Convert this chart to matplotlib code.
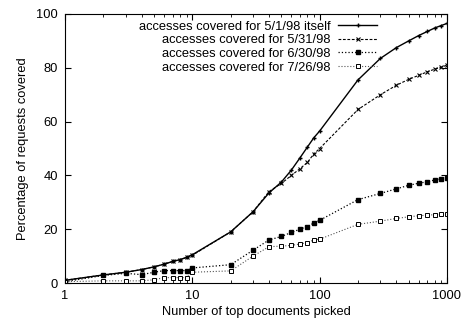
import matplotlib
matplotlib.use("Agg")
import matplotlib.pyplot as plt
from matplotlib.ticker import LogLocator, FixedLocator, NullFormatter

plt.rcParams['font.family'] = ['Liberation Sans', 'DejaVu Sans']

x = [1, 2, 3, 4, 5, 6, 7, 8, 9, 10, 20, 30, 40, 50, 60, 70, 80, 90, 100,
     200, 300, 400, 500, 600, 700, 800, 900, 1000]

may1 = [1.0, 3.0, 4.0, 5.0, 6.0, 7.0, 8.0, 8.7, 9.5, 10.5, 19.0, 26.5, 33.5, 37.5,
        42.0, 46.5, 50.5, 54.0, 56.5, 75.5, 83.5, 87.5, 90.0, 92.0, 93.5, 94.8,
        95.7, 96.5]
may31 = [1.0, 3.0, 4.0, 5.0, 6.0, 7.0, 8.0, 8.7, 9.5, 10.3, 19.0, 26.5, 34.0, 37.0,
         40.0, 42.5, 44.8, 48.0, 50.0, 64.5, 70.0, 73.5, 75.7, 77.2, 78.5, 79.5,
         80.2, 81.0]
jun30 = [0.5, 2.8, 3.6, 3.1, 4.0, 4.6, 4.6, 4.6, 4.6, 5.6, 6.8, 12.2, 16.0, 17.3,
         18.8, 20.0, 21.0, 22.3, 23.3, 31.0, 33.3, 35.0, 36.3, 37.1, 37.6, 38.3,
         38.7, 39.2]
jul26 = [0.5, 0.8, 0.8, 0.8, 1.2, 2.0, 2.0, 2.0, 2.0, 4.0, 4.5, 10.0, 13.5, 13.7,
         14.0, 14.5, 15.0, 16.0, 16.3, 21.8, 23.0, 24.0, 24.6, 25.0, 25.2, 25.4,
         25.6, 25.7]

labels = ["accesses covered for 5/1/98 itself",
          "accesses covered for 5/31/98",
          "accesses covered for 6/30/98",
          "accesses covered for 7/26/98"]

fs = 9.3

fig = plt.figure(figsize=(4.67, 3.2), dpi=100)
ax = fig.add_axes([65 / 467, 1 - 283 / 320, (447 - 65) / 467, (283 - 14) / 320])

ax.plot(x, may1, '-', color='black', lw=1.0, marker='+', ms=3, mew=1, label=labels[0])
ax.plot(x, may31, '--', color='black', lw=0.8, dashes=(2.5, 1.5), marker='x', ms=3,
        mew=0.8, label=labels[1])
ax.plot(x, jun30, ':', color='black', lw=0.9, marker='s', ms=2.5, mfc='black',
        label=labels[2])
ax.plot(x, jul26, ':', color='#555555', lw=0.8, marker='s', ms=3.3, mfc='white',
        mec='black', mew=0.7, label=labels[3])

ax.set_xscale('log')
ax.set_xlim(1, 1000)
ax.set_ylim(0, 100)
ax.xaxis.set_major_locator(FixedLocator([1, 10, 100, 1000]))
ax.xaxis.set_minor_locator(LogLocator(base=10, subs=range(2, 10)))
ax.xaxis.set_minor_formatter(NullFormatter())
ax.set_xticklabels(['1', '10', '100', '1000'])
ax.set_yticks([0, 20, 40, 60, 80, 100])
ax.tick_params(which='both', direction='in', top=True, right=True, labelsize=fs,
               pad=5)
ax.tick_params(which='major', length=4)
ax.tick_params(which='minor', length=2)

ax.set_xlabel("Number of top documents picked", fontsize=fs, labelpad=3)
ax.set_ylabel("Percentage of requests covered", fontsize=fs, labelpad=5)

leg = ax.legend(loc='upper right', markerfirst=False, frameon=False, fontsize=fs,
                handlelength=3, handletextpad=0.6, labelspacing=0.12,
                borderpad=0, borderaxespad=0, bbox_to_anchor=(0.817, 0.975))

fig.savefig("out.png", dpi=100)
